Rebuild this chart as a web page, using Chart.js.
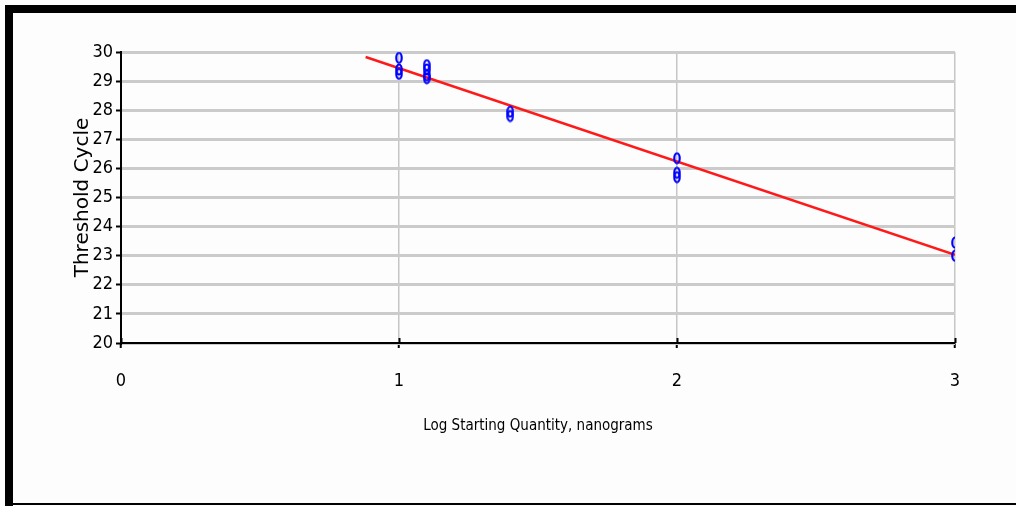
<!DOCTYPE html>
<html>
<head>
<meta charset="utf-8">
<title>Standard Curve</title>
<script src="https://cdn.jsdelivr.net/npm/chart.js@4.4.1/dist/chart.umd.min.js"></script>
<style>
  html, body { margin: 0; padding: 0; background: #fdfdfd; }
  #wrap { position: relative; width: 1016px; height: 506px; }
</style>
</head>
<body>
<div id="wrap"><canvas id="chart"></canvas></div>
<script>
// Log starting quantity (ng) of each standard well and its threshold cycle
const stdLogQty = [1, 1, 1, 1.1, 1.1, 1.1, 1.1, 1.4, 1.4, 2, 2, 2, 3, 3];
const stdCt     = [29.8, 29.4, 29.25, 29.55, 29.4, 29.2, 29.1, 27.95, 27.8, 26.35, 25.85, 25.7, 23.45, 23.0];

// End points of the fitted standard curve
const fitLogQty = [0.88, 3];
const fitCt     = [29.83, 23.03];

// Axis tick labels
const xTicks = [0, 1, 2, 3];
const yTicks = [20, 21, 22, 23, 24, 25, 26, 27, 28, 29, 30];

// Narrow face for tick labels and the x title
const narrow = "'Liberation Sans Narrow', 'DejaVu Sans Condensed', 'Liberation Sans', sans-serif";
const tickFont = { family: narrow, style: 'ultra-condensed', size: 18 };

// Small open ellipse used as the well marker
function ellipseMarker() {
  const c = document.createElement('canvas');
  c.width = 8; c.height = 13;
  const g = c.getContext('2d');
  g.strokeStyle = '#0000ff';
  g.lineWidth = 2.2;
  g.beginPath();
  g.ellipse(4, 6.5, 2.7, 5, 0, 0, Math.PI * 2);
  g.stroke();
  return c;
}

// Frame around the figure
const framePlugin = {
  id: 'frame',
  beforeDraw(chart) {
    const ctx = chart.ctx;
    ctx.save();
    ctx.fillStyle = '#fdfdfd';
    ctx.fillRect(0, 0, chart.width, chart.height);
    ctx.fillStyle = '#000';
    ctx.fillRect(5, 5, chart.width - 5, 8);
    ctx.fillRect(5, 5, 8, chart.height - 5);
    ctx.fillRect(5, chart.height - 3, chart.width - 5, 2);
    ctx.restore();
  }
};

// Tick marks on the x axis cross the axis line
const crossTicks = {
  id: 'crossTicks',
  afterDatasetsDraw(chart) {
    const xs = chart.scales.x;
    const ctx = chart.ctx;
    ctx.save();
    ctx.strokeStyle = '#000';
    ctx.lineWidth = 2;
    xTicks.forEach(v => {
      const px = Math.round(xs.getPixelForValue(v)) + 0.5;
      ctx.beginPath();
      ctx.moveTo(px, xs.top - 5);
      ctx.lineTo(px, xs.top);
      ctx.stroke();
    });
    ctx.restore();
  }
};

new Chart(document.getElementById('chart'), {
  type: 'scatter',
  data: {
    datasets: [
      {
        label: 'Standard curve',
        type: 'line',
        data: fitLogQty.map((x, i) => ({ x, y: fitCt[i] })),
        borderColor: '#ff1a1a',
        borderWidth: 2.5,
        pointRadius: 0,
        fill: false,
        tension: 0,
        order: 2
      },
      {
        label: 'Standards',
        data: stdLogQty.map((x, i) => ({ x, y: stdCt[i] })),
        pointStyle: ellipseMarker(),
        pointRadius: 5,
        order: 1
      }
    ]
  },
  options: {
    responsive: true,
    maintainAspectRatio: false,
    animation: false,
    layout: { padding: { left: 0, top: 52, right: 61, bottom: 0 } },
    plugins: {
      legend: { display: false },
      tooltip: { enabled: false }
    },
    scales: {
      x: {
        type: 'linear',
        min: 0,
        max: 3,
        afterBuildTicks(scale) { scale.ticks = xTicks.map(v => ({ value: v })); },
        afterFit(scale) { scale.height = 163; },
        grid: {
          color: '#c6c6c6',
          lineWidth: 1.5,
          tickColor: '#000',
          tickWidth: 2,
          tickLength: 5
        },
        border: { color: '#000', width: 2 },
        ticks: {
          color: '#000',
          font: tickFont,
          padding: 23,
          maxRotation: 0,
          callback: v => String(v)
        },
        title: {
          display: true,
          text: 'Log Starting Quantity, nanograms',
          color: '#000',
          font: { family: narrow, style: 'ultra-condensed', size: 15 },
          padding: { top: 0, bottom: 71 }
        }
      },
      y: {
        type: 'linear',
        min: 20,
        max: 30,
        afterBuildTicks(scale) { scale.ticks = yTicks.map(v => ({ value: v })); },
        afterFit(scale) { scale.width = 121; },
        grid: {
          color: '#cbcbcb',
          lineWidth: 3,
          tickColor: '#000',
          tickWidth: 2,
          tickLength: 5
        },
        border: { color: '#000', width: 2 },
        ticks: {
          color: '#000',
          font: tickFont,
          padding: 3,
          callback: v => String(v)
        },
        title: {
          display: true,
          text: 'Threshold Cycle',
          color: '#000',
          font: { family: "'DejaVu Sans', Verdana, sans-serif", size: 20 },
          padding: { top: 71, bottom: 0 }
        }
      }
    }
  },
  plugins: [framePlugin, crossTicks]
});
</script>
</body>
</html>
